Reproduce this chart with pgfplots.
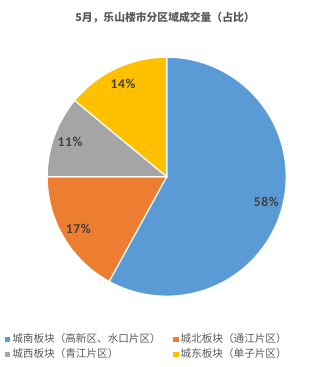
\documentclass[border=0pt]{standalone}
\usepackage{pgfplots}
\pgfplotsset{compat=1.18}
\usepackage{pgfplotstable}
\usepackage{fontspec}
\setmainfont{Noto Sans CJK SC}
\newfontfamily\labfont[LetterSpace=5]{Carlito}
\definecolor{slice0}{HTML}{5B9BD5}
\definecolor{slice1}{HTML}{ED7D31}
\definecolor{slice2}{HTML}{A5A5A5}
\definecolor{slice3}{HTML}{FFC000}
\definecolor{titlegray}{HTML}{595959}
\definecolor{labgray}{HTML}{404040}
\tikzset{pielabel/.style={text=labgray, font=\labfont\bfseries\fontsize{13.5bp}{15bp}\selectfont}}

\pgfplotstableread{
value
58
17
11
14
}\piedata

\begin{document}
\begin{tikzpicture}
\begin{axis}[
  hide axis, scale only axis, width=312bp, height=367bp,
  xmin=0, xmax=312, ymin=0, ymax=367, clip=false,
  legend columns=2, legend cell align=left,
  legend style={draw=none, fill=none, at={(axis cs:4.8,34.5)}, anchor=north west,
    font=\fontsize{10.6bp}{12bp}\selectfont, text=titlegray,
    /tikz/every even column/.append style={column sep=10bp},
    /tikz/row sep=2.5bp, inner sep=0pt, nodes={inner xsep=2.5bp, inner ysep=1bp}},
]
\path (axis cs:0,0) rectangle (axis cs:312,367);
\def\cx{166.7}\def\cy{190.3}\def\r{119.5bp}
\pgfplotstablegetrowsof{\piedata}
\pgfmathtruncatemacro\N{\pgfplotsretval-1}
\def\startangle{90}
\pgfplotsforeachungrouped \i in {0,...,\N}{%
  \pgfplotstablegetelem{\i}{value}\of\piedata
  \let\v\pgfplotsretval
  \pgfmathsetmacro\endangle{\startangle-3.6*\v}
  \pgfmathsetmacro\midangle{(\startangle+\endangle)/2}
  \edef\temp{%
    \noexpand\fill[slice\i, draw=white, line width=1.2bp] (axis cs:\cx,\cy) -- ([shift={(\startangle:\r)}]axis cs:\cx,\cy) arc[start angle=\startangle, end angle=\endangle, radius=\r] -- cycle;
    \noexpand\node[pielabel] at ([shift={(\midangle:0.86*\r)}]axis cs:\cx,\cy) {\v\noexpand\%};
  }%
  \temp
  \global\let\startangle\endangle
}
\node[font=\bfseries\fontsize{10.8bp}{12bp}\selectfont, text=titlegray] at (axis cs:165,349) {5月，乐山楼市分区域成交量（占比）};
\addlegendimage{legend image code/.code={\fill[slice0] (0bp,-2.25bp) rectangle (4.5bp,2.25bp);}}
\addlegendentry{城南板块（高新区、水口片区）}
\addlegendimage{legend image code/.code={\fill[slice1] (0bp,-2.25bp) rectangle (4.5bp,2.25bp);}}
\addlegendentry{城北板块（通江片区）}
\addlegendimage{legend image code/.code={\fill[slice2] (0bp,-2.25bp) rectangle (4.5bp,2.25bp);}}
\addlegendentry{城西板块（青江片区）}
\addlegendimage{legend image code/.code={\fill[slice3] (0bp,-2.25bp) rectangle (4.5bp,2.25bp);}}
\addlegendentry{城东板块（单子片区）}
\end{axis}
\end{tikzpicture}
\end{document}
